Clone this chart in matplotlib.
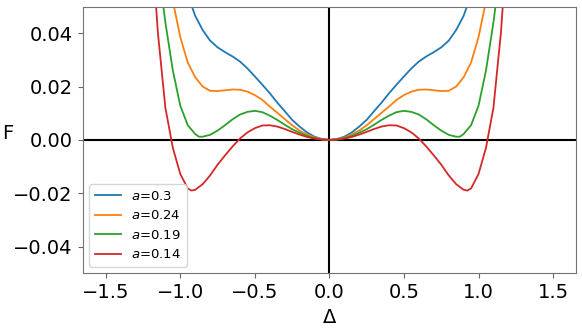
import numpy as np
import matplotlib
matplotlib.use('Agg')
import matplotlib.pyplot as plt

# values (the curves are symmetric in delta)
d_blue = [0, 0.05, 0.10, 0.15, 0.20, 0.25, 0.30, 0.35, 0.40, 0.45, 0.50, 0.55,
          0.60, 0.65, 0.70, 0.75, 0.80, 0.85, 0.90, 0.95, 1.00]
f_blue = [0, 0.0003, 0.0012, 0.0028, 0.0050, 0.0075, 0.0108, 0.0140, 0.0175,
          0.0207, 0.0238, 0.0268, 0.0294, 0.0313, 0.0329, 0.0347, 0.0372,
          0.0412, 0.0465, 0.0545, 0.0650]

d_orange = [0, 0.05, 0.10, 0.15, 0.20, 0.25, 0.30, 0.35, 0.40, 0.45, 0.50, 0.55,
            0.60, 0.65, 0.70, 0.75, 0.80, 0.85, 0.90, 0.95, 1.00, 1.05, 1.10]
f_orange = [0, 0.0002, 0.0009, 0.0020, 0.0035, 0.0055, 0.0078, 0.0102, 0.0125,
            0.0150, 0.0168, 0.0181, 0.0188, 0.0189, 0.0186, 0.0183, 0.0184,
            0.0200, 0.0235, 0.0290, 0.0385, 0.0520, 0.0700]

d_green = [0, 0.05, 0.10, 0.15, 0.20, 0.25, 0.30, 0.35, 0.40, 0.45, 0.50, 0.55,
           0.60, 0.65, 0.70, 0.75, 0.80, 0.85, 0.875, 0.90, 0.95, 1.00, 1.05,
           1.10, 1.15]
f_green = [0, 0.0002, 0.0007, 0.0015, 0.0027, 0.0040, 0.0057, 0.0075, 0.0091,
           0.0104, 0.0109, 0.0105, 0.0095, 0.0077, 0.0055, 0.0035, 0.0019,
           0.0012, 0.0012, 0.0022, 0.0055, 0.0128, 0.0260, 0.0440, 0.0660]

d_red = [0, 0.05, 0.10, 0.15, 0.20, 0.25, 0.30, 0.35, 0.40, 0.45, 0.50, 0.55,
         0.60, 0.65, 0.70, 0.75, 0.80, 0.85, 0.90, 0.925, 0.95, 1.00, 1.05,
         1.10, 1.15, 1.20]
f_red = [0, 0.0001, 0.0005, 0.0011, 0.0020, 0.0030, 0.0041, 0.0050, 0.0055,
         0.0054, 0.0044, 0.0028, 0.0005, -0.0025, -0.0058, -0.0093, -0.0133,
         -0.0166, -0.0187, -0.0190, -0.0182, -0.0128, -0.0030, 0.0120,
         0.0400, 0.0800]

labels = ['$a$=0.3', '$a$=0.24', '$a$=0.19', '$a$=0.14']
colors = ['#1f77b4', '#ff7f0e', '#2ca02c', '#d62728']


def mirror(d, f):
    d = np.array(d)
    f = np.array(f)
    return np.concatenate([-d[:0:-1], d]), np.concatenate([f[:0:-1], f])


fig = plt.figure(figsize=(5.82, 3.28), dpi=100)
ax = fig.add_axes([0.142, 0.167, 0.848, 0.813])

series = [(d_blue, f_blue), (d_orange, f_orange), (d_green, f_green), (d_red, f_red)]
for (d, f), lab, c in zip(series, labels, colors):
    x, y = mirror(d, f)
    ax.plot(x, y, color=c, lw=1.3, label=lab)

ax.axhline(0, color='k', lw=1.5, zorder=1)
ax.axvline(0, color='k', lw=1.5, zorder=1)

ax.set_xlim(-1.655, 1.655)
ax.set_ylim(-0.05, 0.05)
ax.set_xticks([-1.5, -1.0, -0.5, 0.0, 0.5, 1.0, 1.5])
ax.set_yticks([-0.04, -0.02, 0.0, 0.02, 0.04])
ax.tick_params(labelsize=14, color='0.4')
for s in ax.spines.values():
    s.set_color('0.45')

ax.set_xlabel('Δ', fontsize=14)
ax.set_ylabel('F', fontsize=14, rotation=0)
ax.yaxis.set_label_coords(-0.152, 0.49)

ax.legend(loc='lower left', fontsize=9.5)

fig.savefig('out.png', dpi=100)
